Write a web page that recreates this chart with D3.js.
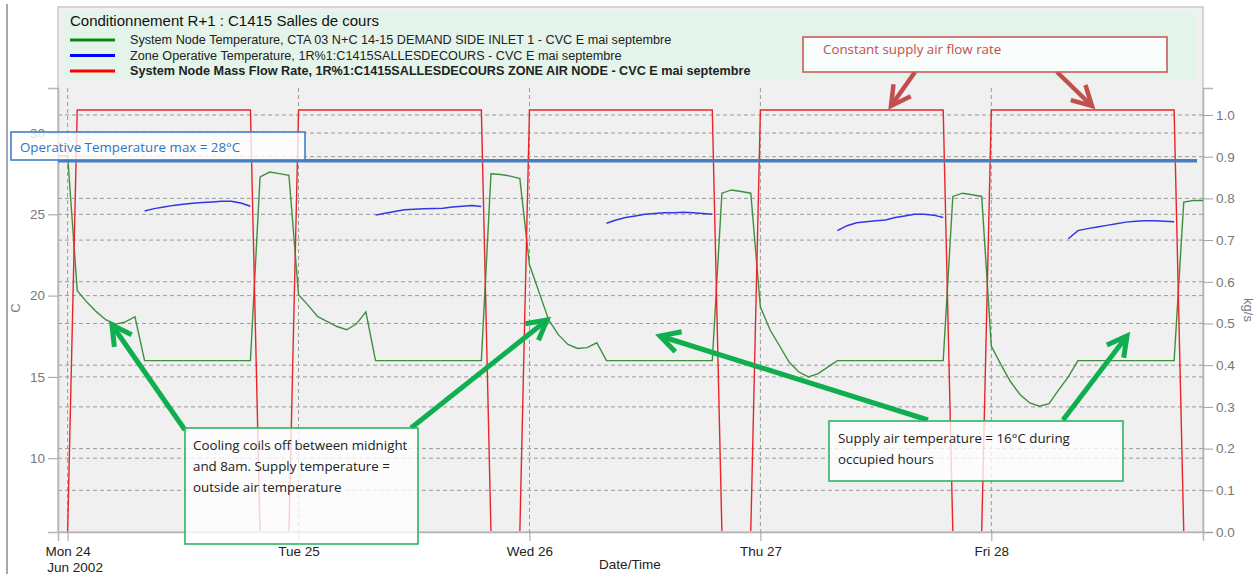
<!DOCTYPE html>
<html>
<head>
<meta charset="utf-8">
<script src="https://cdn.jsdelivr.net/npm/d3@7"></script>
<style>
  body { margin: 0; background: #fff; }
  text { font-family: "Liberation Sans", Arial, sans-serif; }
  .note { font-family: "Open Sans", sans-serif; font-size: 13.33px; }
</style>
</head>
<body>
<div id="chart"></div>
<script>
// hourly values, first sample = Sun 23 Jun 2002 23:00
const firstHour = -1;

const legendTitle = "Conditionnement R+1 : C1415 Salles de cours";
const seriesNames = [
  "System Node Temperature, CTA 03 N+C 14-15 DEMAND SIDE INLET 1 - CVC E mai septembre",
  "Zone Operative Temperature, 1R%1:C1415SALLESDECOURS - CVC E mai septembre",
  "System Node Mass Flow Rate, 1R%1:C1415SALLESDECOURS ZONE AIR NODE - CVC E mai septembre"
];

// supply node temperature (C)
const supplyTemp = [
  28.6, 28.6, 20.3, 19.6, 19.0, 18.5, 18.25, 18.38, 18.7,
  16, 16, 16, 16, 16, 16, 16, 16, 16, 16, 16, 16,
  27.3, 27.6, 27.5, 27.4,
  20.06, 19.4, 18.7, 18.4, 18.1, 17.9, 18.25, 19.0,
  16, 16, 16, 16, 16, 16, 16, 16, 16, 16, 16, 16,
  27.5, 27.45, 27.35, 27.2,
  21.9, 20.2, 18.5, 17.6, 17.0, 16.75, 16.8, 17.1,
  16, 16, 16, 16, 16, 16, 16, 16, 16, 16, 16, 16,
  26.3, 26.5, 26.4, 26.3,
  19.3, 17.9, 16.9, 15.9, 15.3, 15.0, 15.2, 15.6,
  16, 16, 16, 16, 16, 16, 16, 16, 16, 16, 16, 16,
  26.1, 26.3, 26.2, 26.1,
  16.9, 15.76, 14.7, 13.9, 13.4, 13.2, 13.35, 14.2, 15.0,
  16, 16, 16, 16, 16, 16, 16, 16, 16, 16, 16,
  25.75, 25.85, 25.85
];

// zone operative temperature (C), only while the fan runs
const zoneTemp = [
  null, null, null, null, null, null, null, null, null,
  25.2, 25.35, 25.45, 25.55, 25.62, 25.68, 25.72, 25.76, 25.8, 25.8, 25.7, 25.5,
  null, null, null, null, null, null, null, null, null, null, null, null,
  24.95, 25.07, 25.18, 25.28, 25.31, 25.34, 25.36, 25.38, 25.45, 25.5, 25.54, 25.48,
  null, null, null, null, null, null, null, null, null, null, null, null,
  24.45, 24.65, 24.8, 24.9, 25.0, 25.05, 25.1, 25.1, 25.12, 25.1, 25.05, 25.0,
  null, null, null, null, null, null, null, null, null, null, null, null,
  24.0, 24.3, 24.48, 24.55, 24.6, 24.65, 24.8, 24.9, 25.0, 25.0, 24.95, 24.8,
  null, null, null, null, null, null, null, null, null, null, null, null,
  23.5, 24.0, 24.12, 24.22, 24.32, 24.42, 24.52, 24.58, 24.6, 24.6, 24.58, 24.55,
  null, null, null
];

// supply air mass flow rate (kg/s)
const massFlow = [
  0, 0,
  1.012, 1.012, 1.012, 1.012, 1.012, 1.012, 1.012, 1.012, 1.012, 1.012,
  1.012, 1.012, 1.012, 1.012, 1.012, 1.012, 1.012, 1.012, 1.012,
  0, 0, 0, 0,
  1.012, 1.012, 1.012, 1.012, 1.012, 1.012, 1.012, 1.012, 1.012, 1.012,
  1.012, 1.012, 1.012, 1.012, 1.012, 1.012, 1.012, 1.012, 1.012, 1.012,
  0, 0, 0, 0,
  1.012, 1.012, 1.012, 1.012, 1.012, 1.012, 1.012, 1.012, 1.012, 1.012,
  1.012, 1.012, 1.012, 1.012, 1.012, 1.012, 1.012, 1.012, 1.012, 1.012,
  0, 0, 0, 0,
  1.012, 1.012, 1.012, 1.012, 1.012, 1.012, 1.012, 1.012, 1.012, 1.012,
  1.012, 1.012, 1.012, 1.012, 1.012, 1.012, 1.012, 1.012, 1.012, 1.012,
  0, 0, 0, 0,
  1.012, 1.012, 1.012, 1.012, 1.012, 1.012, 1.012, 1.012, 1.012, 1.012,
  1.012, 1.012, 1.012, 1.012, 1.012, 1.012, 1.012, 1.012, 1.012, 1.012,
  0, 0, 0
];

const opTempMax = 28.3;   // drawn limit line
const tempTicks = [10, 15, 20, 25, 30];
const flowTicks = [0.0, 0.1, 0.2, 0.3, 0.4, 0.5, 0.6, 0.7, 0.8, 0.9, 1.0];

const W = 1260, H = 574;
const svg = d3.select("#chart").append("svg")
  .attr("width", W)
  .attr("height", H);

const margin = { top: 88, right: 57, bottom: 42, left: 58 };
const width = W - margin.left - margin.right;
const height = H - margin.top - margin.bottom;

const t0 = new Date(2002, 5, 24);
const timeAt = i => new Date(t0.getTime() + (i + firstHour) * 3600e3);

const x = d3.scaleTime()
  .domain([timeAt(0), timeAt(supplyTemp.length - 1)])
  .range([0, width]);
const yT = d3.scaleLinear().domain([5.46, 32.77]).range([height, 0]);
const yF = d3.scaleLinear().domain([0, 1.0647]).range([height, 0]);

// outer frame + plot background
svg.append("line")
  .attr("x1", 7).attr("x2", 7).attr("y1", 4).attr("y2", 574)
  .attr("stroke", "#aba4b4").attr("stroke-width", 2);
svg.append("rect")
  .attr("x", margin.left).attr("y", 7)
  .attr("width", width).attr("height", height + margin.top - 7)
  .attr("fill", "#eff0ef")
  .attr("stroke", "#c9c9c9").attr("stroke-width", 1.5);
svg.append("rect")
  .attr("x", 64).attr("y", 12)
  .attr("width", 1131).attr("height", 68)
  .attr("fill", "#e4f4ea");

const chart = svg.append("g")
  .attr("transform", `translate(${margin.left}, ${margin.top})`);

chart.append("clipPath").attr("id", "plotclip")
  .append("rect")
  .attr("x", 0).attr("y", -20)
  .attr("width", width).attr("height", height + 19);

// grid
const grid = chart.append("g")
  .attr("stroke", "#9a9a9a")
  .attr("stroke-dasharray", "4,3")
  .attr("stroke-width", 1);
grid.selectAll(".gt").data(tempTicks).enter().append("line")
  .attr("x1", 0).attr("x2", width)
  .attr("y1", d => yT(d)).attr("y2", d => yT(d));
grid.selectAll(".gf").data(flowTicks.slice(1)).enter().append("line")
  .attr("x1", 0).attr("x2", width)
  .attr("y1", d => yF(d)).attr("y2", d => yF(d));
const days = d3.timeDay.range(d3.timeDay.ceil(x.domain()[0]), x.domain()[1]);
grid.selectAll(".gd").data(days).enter().append("line")
  .attr("x1", d => x(d)).attr("x2", d => x(d))
  .attr("y1", 0).attr("y2", height);

// axes
const axL = chart.append("g")
  .call(d3.axisLeft(yT).tickValues(tempTicks).tickSize(10).tickPadding(3));
const axR = chart.append("g")
  .attr("transform", `translate(${width}, 0)`)
  .call(d3.axisRight(yF).tickValues(flowTicks).tickSize(10).tickPadding(3)
    .tickFormat(d3.format(".1f")));
const axB = chart.append("g")
  .attr("transform", `translate(0, ${height})`)
  .call(d3.axisBottom(x).tickValues(days).tickSize(9).tickPadding(5)
    .tickFormat(d3.timeFormat("%a %d")));

[axL, axR, axB].forEach(a => {
  a.select(".domain").attr("stroke", "#b5b5b5").attr("stroke-width", 1.5);
  a.selectAll(".tick line").attr("stroke", "#a0a0a0");
  a.selectAll("text").attr("font-size", "13.5px")
    .attr("font-family", "'Liberation Sans', Arial, sans-serif");
});
axL.selectAll("text").attr("fill", "#777");
axR.selectAll("text").attr("fill", "#777");
axB.selectAll("text").attr("fill", "#222");
axB.select(".tick text").append("tspan")
  .attr("x", 7).attr("dy", "1.22em").text("Jun 2002");

chart.append("text")
  .attr("transform", "rotate(-90)")
  .attr("x", -(308 - margin.top)).attr("y", 15 - margin.left + 5)
  .attr("text-anchor", "middle")
  .attr("font-size", "13px").attr("fill", "#777")
  .text("C");
chart.append("text")
  .attr("transform", `translate(${1244 - margin.left}, ${310 - margin.top}) rotate(90)`)
  .attr("text-anchor", "middle")
  .attr("font-size", "13px").attr("fill", "#777")
  .text("kg/s");
chart.append("text")
  .attr("x", 630 - margin.left).attr("y", 569 - margin.top)
  .attr("text-anchor", "middle")
  .attr("font-size", "13.5px").attr("fill", "#222")
  .text("Date/Time");

// series
const lineT = d3.line()
  .defined(d => d != null)
  .x((d, i) => x(timeAt(i)))
  .y(d => yT(d));
const lineF = d3.line()
  .x((d, i) => x(timeAt(i)))
  .y(d => yF(d));

const plot = chart.append("g").attr("clip-path", "url(#plotclip)");
plot.append("path").datum(supplyTemp)
  .attr("fill", "none").attr("stroke", "#3f8f3f").attr("stroke-width", 1.4)
  .attr("d", lineT);
plot.append("path").datum(zoneTemp)
  .attr("fill", "none").attr("stroke", "#3535e6").attr("stroke-width", 1.5)
  .attr("d", lineT);
plot.append("path").datum(massFlow)
  .attr("fill", "none").attr("stroke", "#e8262a").attr("stroke-width", 1.4)
  .attr("d", lineF);

// legend
svg.append("text")
  .attr("x", 70).attr("y", 26)
  .attr("font-size", "15px").attr("fill", "#111")
  .text(legendTitle);
const legendColors = ["#0a8a0a", "#0000ff", "#ff0000"];
seriesNames.forEach((name, i) => {
  const row = svg.append("g").attr("transform", `translate(70, ${40 + i * 15.5})`);
  row.append("line")
    .attr("x1", 0).attr("x2", 45)
    .attr("stroke", legendColors[i]).attr("stroke-width", 3);
  row.append("text")
    .attr("x", 60).attr("y", 4)
    .attr("font-size", "12.65px")
    .attr("fill", "#222")
    .attr("font-weight", i === 2 ? "bold" : "normal")
    .text(name);
});

// max operative temperature line
chart.append("line")
  .attr("x1", 0).attr("x2", width - 6)
  .attr("y1", yT(opTempMax)).attr("y2", yT(opTempMax))
  .attr("stroke", "#4a7cc0").attr("stroke-width", 3.5);

// annotations
function arrow(x1, y1, x2, y2, color, w) {
  const a = Math.atan2(y2 - y1, x2 - x1);
  const len = 22, spread = 0.5;
  const g = svg.append("g")
    .attr("stroke", color).attr("stroke-width", w)
    .attr("fill", "none").attr("stroke-linecap", "butt");
  g.append("line").attr("x1", x1).attr("y1", y1).attr("x2", x2).attr("y2", y2);
  g.append("path").attr("d",
    `M${x2 - len * Math.cos(a - spread)},${y2 - len * Math.sin(a - spread)}` +
    `L${x2},${y2}` +
    `L${x2 - len * Math.cos(a + spread)},${y2 - len * Math.sin(a + spread)}`);
}

arrow(185, 430, 112, 325, "#0fae4f", 5);
arrow(411, 428, 547, 320, "#0fae4f", 5);
arrow(928, 420, 660, 336, "#0fae4f", 5);
arrow(1063, 420, 1127, 336, "#0fae4f", 5);
arrow(915, 72, 891, 106, "#c0504d", 4.5);
arrow(1057, 72, 1092, 106, "#c0504d", 4.5);

function noteBox(x0, y0, w, h, stroke, lines, color, x1, y1, dy) {
  svg.append("rect")
    .attr("x", x0).attr("y", y0).attr("width", w).attr("height", h)
    .attr("fill", "rgba(255,255,255,0.78)")
    .attr("stroke", stroke).attr("stroke-width", 1.6);
  const t = svg.append("text").attr("class", "note").attr("fill", color);
  lines.forEach((l, i) => {
    t.append("tspan").attr("x", x1).attr("y", y1 + i * dy).text(l);
  });
}

noteBox(11, 132, 294, 28, "#3f7fc8",
  ["Operative Temperature max = 28°C"], "#2f74c0", 20, 152, 0);
noteBox(803, 37, 364, 35, "#c65b5b",
  ["Constant supply air flow rate"], "#c0504d", 823, 54, 0);
noteBox(185, 428, 233, 116, "#2fb462",
  ["Cooling coils off between midnight", "and 8am. Supply temperature =", "outside air temperature"],
  "#222", 193, 450, 21);
noteBox(829, 421, 294, 60, "#2fb462",
  ["Supply air temperature = 16°C during", "occupied hours"],
  "#222", 838, 443, 21);
</script>
</body>
</html>
